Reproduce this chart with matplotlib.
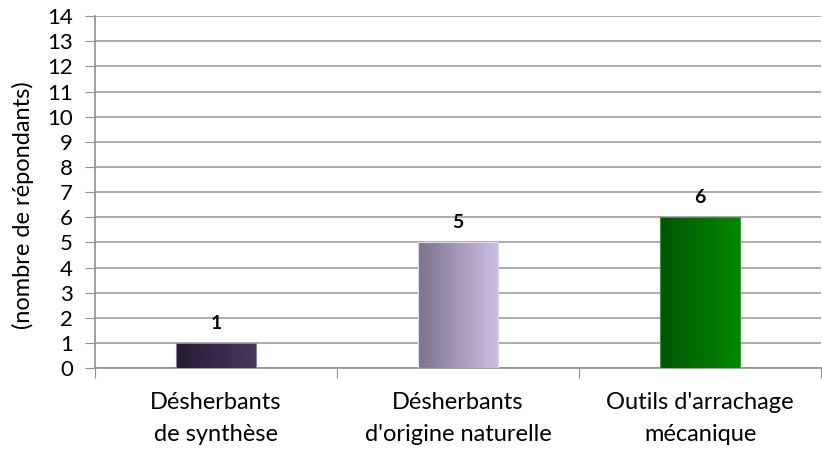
import numpy as np
import matplotlib
matplotlib.use('Agg')
from matplotlib import pyplot as plt
from matplotlib.colors import LinearSegmentedColormap

categories = ['Désherbants\nde synthèse',
              "Désherbants\nd'origine naturelle",
              "Outils d'arrachage\nmécanique"]
values = [1, 5, 6]
gradients = [('#261b33', '#47365f'),
             ('#7c728a', '#cdbfe2'),
             ('#005500', '#008a00')]
edge_colors = ['#8a80a0', '#e0d8ee', '#3a9a3a']
y_ticks = list(range(0, 15))

plt.rcParams['font.family'] = ['Lato', 'DejaVu Sans']

fig = plt.figure(figsize=(8.22, 4.5), dpi=100)
ax = fig.add_axes([0.1156, 0.182, 0.8834, 0.782])

x = np.arange(len(categories))
bars = ax.bar(x, values, width=0.33, color='none', zorder=3)

gradient = np.linspace(0, 1, 256).reshape(1, -1)
for bar, (c0, c1), ec, v in zip(bars, gradients, edge_colors, values):
    cmap = LinearSegmentedColormap.from_list('g', [c0, c1])
    x0, y0 = bar.get_x(), bar.get_y()
    w, h = bar.get_width(), bar.get_height()
    im = ax.imshow(gradient, cmap=cmap, aspect='auto',
                   extent=(x0, x0 + w, y0, y0 + h), zorder=3)
    im.set_clip_path(bar)
    bar.set_edgecolor(ec)
    bar.set_linewidth(0.8)
    bar.set_zorder(4)
    ax.text(x0 + w / 2, h + 0.45, str(v), ha='center', va='bottom',
            fontsize=14, fontweight='bold', color='black')

ax.set_xlim(-0.5, len(categories) - 0.5)
ax.set_ylim(0, 14)
ax.set_yticks(y_ticks)
ax.tick_params(axis='y', labelsize=16, length=7, color='#909090', pad=9)
ax.set_xticks(np.arange(-0.5, len(categories), 1.0))
ax.set_xticklabels([])
ax.set_xticks(x, minor=True)
ax.set_xticklabels(categories, minor=True, fontsize=17, linespacing=1.65)
ax.tick_params(axis='x', which='major', length=7, color='#909090')
ax.tick_params(axis='x', which='minor', length=0, pad=17)

ax.grid(axis='y', color='#a6a6a6', linewidth=1.3, zorder=0)
ax.set_axisbelow(True)
for s in ['top', 'right']:
    ax.spines[s].set_visible(False)
for s in ['left', 'bottom']:
    ax.spines[s].set_color('#909090')
    ax.spines[s].set_linewidth(1.2)

ax.set_ylabel('(nombre de répondants)', fontsize=17)
ax.yaxis.set_label_coords(-0.084, 0.463)

fig.savefig('out.png', dpi=100)
